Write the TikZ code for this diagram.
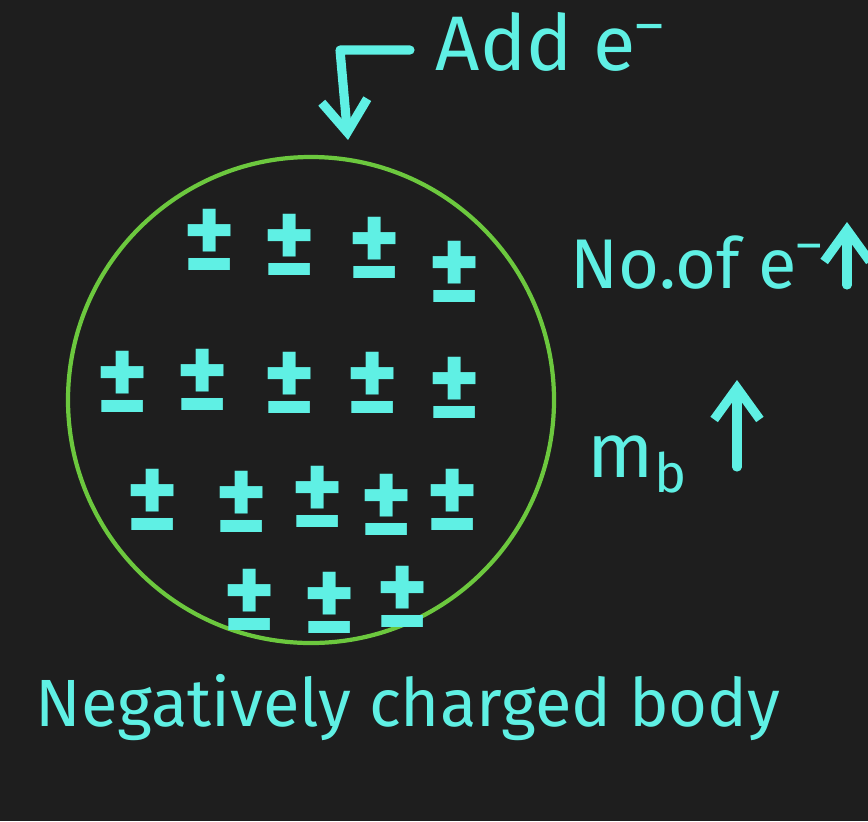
\documentclass[tikz,border=0pt]{standalone}
\usepackage{fontspec}
\setmainfont{Fira Sans}
\usepackage{tikz}
\usetikzlibrary{arrows.meta}
\definecolor{board}{RGB}{30,30,30}
\definecolor{chalk}{RGB}{95,240,228}
\definecolor{ring}{RGB}{108,200,62}

\begin{document}
\begin{tikzpicture}[x=0.01cm, y=0.01cm]
\tikzstyle{every node}+=[inner sep=0pt, text=chalk]
\tikzstyle{charge}=[font=\fontsize{28}{28}\selectfont\bfseries]
\tikzstyle{handtext}=[anchor=base west, font=\fontsize{22}{22}\selectfont]
\tikzstyle{pen}=[draw=chalk, line width=2.6pt, line cap=round, line join=round]
\tikzstyle{barb}=[-{Straight Barb[length=9pt, width=13pt]}]
\fill [board] (0,0) rectangle (868,-821);
\useasboundingbox (0,0) rectangle (868,-821);
% the body
\draw [ring, line width=1.2pt] (311,-400) circle (243);
\draw (210,-240) node [charge] (p1) {±};
\draw (290,-245) node [charge] (p2) {±};
\draw (375,-248) node [charge] (p3) {±};
\draw (455,-272) node [charge] (p4) {±};
\draw (123,-382) node [charge] (p5) {±};
\draw (203,-380) node [charge] (p6) {±};
\draw (290,-383) node [charge] (p7) {±};
\draw (373,-383) node [charge] (p8) {±};
\draw (455,-388) node [charge] (p9) {±};
\draw (153,-500) node [charge] (p10) {±};
\draw (242,-502) node [charge] (p11) {±};
\draw (318,-497) node [charge] (p12) {±};
\draw (387,-505) node [charge] (p13) {±};
\draw (453,-500) node [charge] (p14) {±};
\draw (250,-600) node [charge] (p15) {±};
\draw (330,-603) node [charge] (p16) {±};
\draw (403,-597) node [charge] (p17) {±};
% labels
\draw (435,-70) node [handtext] (add) {Add e\textsuperscript{–}};
\draw (570,-288) node [handtext, font=\fontsize{20}{20}\selectfont] (count) {No.of e\textsuperscript{–}};
\draw (587,-477) node [handtext] (mass) {m\textsubscript{b}};
\draw (35,-726) node [handtext, font=\fontsize{19}{19}\selectfont] (name) {Negatively charged body};
% arrows
\coordinate (a0) at (410,-50);
\coordinate (a1) at (340,-50);
\coordinate (a2) at (348,-140);
\draw [pen, barb] (a0) -- (a1) -- (a2);
\coordinate (c0) at (847,-285);
\coordinate (c1) at (847,-222);
\draw [pen, barb] (c0) -- (c1);
\coordinate (m0) at (737,-467);
\coordinate (m1) at (737,-380);
\draw [pen, barb] (m0) -- (m1);
\end{tikzpicture}
\end{document}
